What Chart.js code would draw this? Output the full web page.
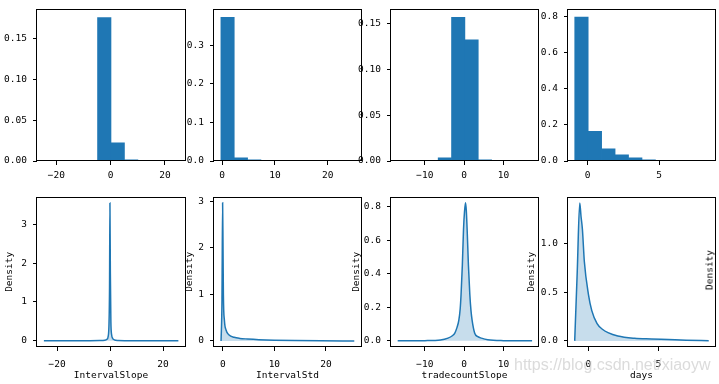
<!DOCTYPE html>
<html>
<head>
<meta charset="utf-8">
<script src="https://cdn.jsdelivr.net/npm/chart.js@4.4.0/dist/chart.umd.min.js"></script>
<style>
  body { margin: 0; background: #fff; width: 719px; height: 384px; overflow: hidden; position: relative; }
  canvas { position: absolute; }
  .extra { position: absolute; left: 709px; top: 270px; transform: translate(-50%, -50%) rotate(-90deg);
           font-family: "DejaVu Sans Mono", monospace; font-size: 9.5px; color: #000; white-space: nowrap; }
  .mark { position: absolute; left: 514px; top: 356px; font-family: "Liberation Sans", Arial, sans-serif;
          font-size: 16px; color: rgba(200, 200, 200, 0.65); white-space: nowrap; }
</style>
</head>
<body>
<canvas id="h1"></canvas>
<canvas id="h2"></canvas>
<canvas id="h3"></canvas>
<canvas id="h4"></canvas>
<canvas id="k1"></canvas>
<canvas id="k2"></canvas>
<canvas id="k3"></canvas>
<canvas id="k4"></canvas>
<span class="extra">Density</span>
<span class="mark">https://blog.csdn.net/xiaoyw</span>
<script>
// top row: histogram bin centres and densities
var slopeBins = [-22.13, -17.18, -12.23, -7.28, -2.33, 2.63, 7.58, 12.53, 17.48, 22.43];
var slopeHist = [0.0001, 0.0001, 0.0002, 0.0004, 0.1758, 0.0223, 0.0013, 0.0003, 0.0001, 0.0001];
var stdBins = [1.02, 3.55, 6.08, 8.61, 11.14, 13.67, 16.2, 18.73, 21.26, 23.79];
var stdHist = [0.3715, 0.0080, 0.0032, 0.0008, 0.0003, 0.0002, 0.0001, 0.0001, 0.0001, 0.0001];
var tradeBins = [-15.1, -11.7, -8.3, -4.9, -1.5, 1.9, 5.3, 8.7, 12.1, 15.5];
var tradeHist = [0.0001, 0.0002, 0.0006, 0.0035, 0.1567, 0.1322, 0.0014, 0.0004, 0.0001, 0.0001];
var daysBins = [-0.43, 0.51, 1.45, 2.39, 3.33, 4.27, 5.21, 6.15, 7.09, 8.03];
var daysHist = [0.798, 0.164, 0.067, 0.034, 0.018, 0.007, 0.003, 0.0015, 0.0008, 0.0004];

// bottom row: density curves
var slopeKdeX = [-25.0, -15, -8, -4, -2, -1.2, -0.7, -0.4, -0.2, -0.05, 0.1, 0.3, 0.6, 1.0, 1.6, 3, 6, 12, 25.8];
var slopeKdeY = [0, 0.0005, 0.002, 0.006, 0.015, 0.04, 0.12, 0.45, 1.4, 3.55, 1.8, 0.5, 0.15, 0.06, 0.025, 0.008, 0.003, 0.001, 0];
var stdKdeX = [-0.33, -0.15, -0.03, 0.05, 0.12, 0.32, 0.65, 1.23, 2.2, 3.3, 4.8, 7, 10, 14, 19, 25.5];
var stdKdeY = [0, 0.9, 2.97, 2.0, 1.0, 0.44, 0.23, 0.126, 0.078, 0.055, 0.042, 0.028, 0.016, 0.008, 0.003, 0];
var tradeKdeX = [-16.9, -10, -6, -4.1, -3.0, -2.4, -1.8, -1.35, -1.0, -0.77, -0.45, -0.15, 0.1, 0.36, 0.55, 0.77, 1.1, 1.45, 1.75, 2.04, 2.7, 3.5, 4.4, 6, 10, 17.3];
var tradeKdeY = [0, 0.001, 0.005, 0.016, 0.03, 0.045, 0.08, 0.122, 0.19, 0.278, 0.45, 0.666, 0.77, 0.824, 0.78, 0.666, 0.45, 0.278, 0.18, 0.122, 0.045, 0.025, 0.016, 0.006, 0.001, 0];
var daysKdeX = [-0.98, -0.8, -0.62, -0.53, -0.43, -0.29, 0, 0.24, 0.62, 1.0, 1.4, 2.1, 3.3, 4.5, 5.7, 7, 8.6];
var daysKdeY = [0, 0.71, 1.42, 1.285, 1.151, 0.815, 0.48, 0.312, 0.178, 0.12, 0.085, 0.05, 0.027, 0.02, 0.014, 0.007, 0.002];

// tick labels
var xTicksSlope = [-20, 0, 20];
var xTicksStd = [0, 10, 20];
var xTicksTrade = [-10, 0, 10];
var xTicksDays = [0, 5];
var yTicksHistSlope = [0, 0.05, 0.10, 0.15];
var yTicksHistStd = [0, 0.1, 0.2, 0.3];
var yTicksHistTrade = [0, 0.05, 0.10, 0.15];
var yTicksHistDays = [0, 0.2, 0.4, 0.6, 0.8];
var yTicksKdeSlope = [0, 1, 2, 3];
var yTicksKdeStd = [0, 1, 2, 3];
var yTicksKdeTrade = [0, 0.2, 0.4, 0.6, 0.8];
var yTicksKdeDays = [0, 0.5, 1.0];

var xNames = ["IntervalSlope", "IntervalStd", "tradecountSlope", "days"];

var FONT = '"DejaVu Sans Mono", monospace';
var BLUE = "#1f77b4";
var PAD_TOP = 8, PAD_RIGHT = 8;

// axes box of every subplot
var cols = [{l: 37, r: 185}, {l: 214, r: 361}, {l: 391, r: 538}, {l: 568, r: 715}];
var rowTop = {t: 5, b: 161, xh: 24, xpad: 5, yw: [37, 37, 37, 37]};
var rowBot = {t: 193, b: 347, xh: 34, xpad: 8, yw: [33, 30, 40, 42]};

function fmt(v, d) {
    return (v < 0 ? "\u2212" : "") + Math.abs(v).toFixed(d);
}

//draw the black frame round each axes
var framePlugin = {
    id: "frame",
    afterDraw: function(chart) {
        var a = chart.chartArea, c = chart.ctx;
        c.save();
        c.strokeStyle = "#000";
        c.lineWidth = 1;
        c.strokeRect(Math.round(a.left) - 0.5, Math.round(a.top) + 0.5,
                     Math.round(a.right - a.left) + 1, Math.round(a.bottom - a.top) - 1);
        c.restore();
    }
};

function axis(min, max, ticks, dec, size, isX, title, pad) {
    return {
        type: "linear",
        min: min,
        max: max,
        offset: false,
        afterBuildTicks: function(s) { s.ticks = ticks.map(function(v) { return {value: v}; }); },
        afterFit: function(s) { if (isX) { s.height = size; } else { s.width = size; } },
        grid: {display: true, offset: false, drawOnChartArea: false, drawTicks: true, tickLength: 4, color: "#000"},
        border: {display: false},
        ticks: {
            color: "#000", padding: pad, autoSkip: false, maxRotation: 0,
            font: {family: FONT, size: 9.5},
            callback: function(v) { return fmt(v, dec); }
        },
        title: {display: !!title, text: title || "", color: "#000", padding: 0,
                font: {family: FONT, size: 9.5}}
    };
}

function place(id, col, row, k) {
    var cv = document.getElementById(id);
    var yw = row.yw[k];
    cv.width = (col.r - col.l) + yw + PAD_RIGHT;
    cv.height = (row.b - row.t) + PAD_TOP + row.xh;
    cv.style.left = (col.l - yw) + "px";
    cv.style.top = (row.t - PAD_TOP) + "px";
    return cv;
}

function baseOptions(xs, ys) {
    return {
        responsive: false,
        animation: false,
        devicePixelRatio: 1,
        events: [],
        layout: {padding: {top: PAD_TOP, right: PAD_RIGHT, left: 0, bottom: 0}},
        plugins: {legend: {display: false}, tooltip: {enabled: false}},
        scales: {x: xs, y: ys}
    };
}

function hist(id, k, bins, dens, xmin, xmax, xt, ymax, yt, ydec) {
    var cv = place(id, cols[k], rowTop, k);
    new Chart(cv, {
        type: "bar",
        data: {datasets: [{
            data: bins.map(function(b, i) { return {x: b, y: dens[i]}; }),
            backgroundColor: BLUE,
            borderWidth: 0,
            barPercentage: 1,
            categoryPercentage: 1
        }]},
        options: baseOptions(
            axis(xmin, xmax, xt, 0, rowTop.xh, true, null, rowTop.xpad),
            axis(0, ymax, yt, ydec, rowTop.yw[k], false, null, 6)
        ),
        plugins: [framePlugin]
    });
}

function kde(id, k, xv, yv, xmin, xmax, xt, ymin, ymax, yt, ydec) {
    var cv = place(id, cols[k], rowBot, k);
    new Chart(cv, {
        type: "line",
        data: {datasets: [{
            data: xv.map(function(x, i) { return {x: x, y: yv[i]}; }),
            borderColor: BLUE,
            backgroundColor: "rgba(31,119,180,0.25)",
            borderWidth: 1.5,
            pointRadius: 0,
            cubicInterpolationMode: "monotone",
            fill: "origin"
        }]},
        options: baseOptions(
            axis(xmin, xmax, xt, 0, rowBot.xh, true, xNames[k], rowBot.xpad),
            axis(ymin, ymax, yt, ydec, rowBot.yw[k], false, "Density", 6)
        ),
        plugins: [framePlugin]
    });
}

hist("h1", 0, slopeBins, slopeHist, -27.1, 27.4, xTicksSlope, 0.1866, yTicksHistSlope, 2);
hist("h2", 1, stdBins, stdHist, -1.55, 26.3, xTicksStd, 0.394, yTicksHistStd, 1);
hist("h3", 2, tradeBins, tradeHist, -18.6, 18.8, xTicksTrade, 0.166, yTicksHistTrade, 2);
hist("h4", 3, daysBins, daysHist, -1.37, 8.9, xTicksDays, 0.845, yTicksHistDays, 1);

kde("k1", 0, slopeKdeX, slopeKdeY, -27.6, 28.3, xTicksSlope, -0.16, 3.71, yTicksKdeSlope, 0);
kde("k2", 1, stdKdeX, stdKdeY, -1.7, 26.8, xTicksStd, -0.13, 3.10, yTicksKdeStd, 0);
kde("k3", 2, tradeKdeX, tradeKdeY, -18.6, 18.8, xTicksTrade, -0.037, 0.86, yTicksKdeTrade, 1);
kde("k4", 3, daysKdeX, daysKdeY, -1.46, 9.05, xTicksDays, -0.063, 1.486, yTicksKdeDays, 1);
</script>
</body>
</html>
